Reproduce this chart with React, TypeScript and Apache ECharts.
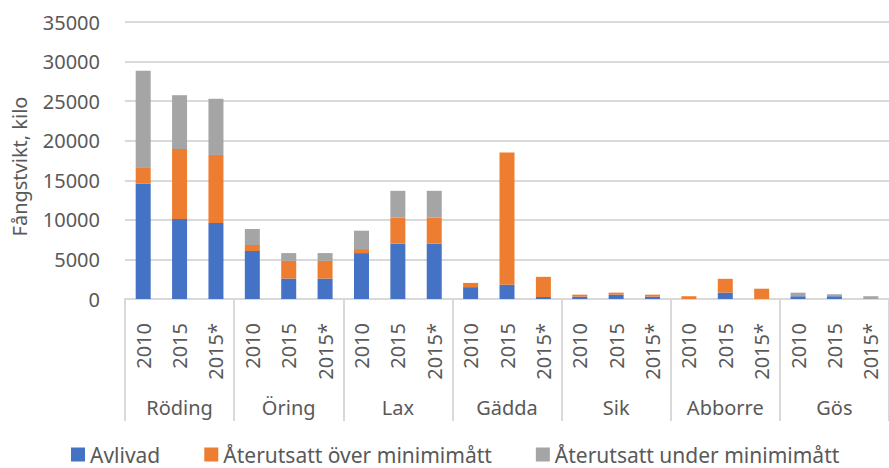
import React, { useEffect, useRef } from "react";
import * as echarts from "echarts";

const groups = ["Röding", "Öring", "Lax", "Gädda", "Sik", "Abborre", "Gös"];
const years = ["2010", "2015", "2015*"];
const categories: string[] = groups.flatMap(() => years);

const avlivad = [14600, 10100, 9600, 6050, 2580, 2580, 5800, 7000, 7000, 1500, 1800, 250, 300, 550, 300, 0, 800, 0, 350, 350, 0];
const overMin = [2050, 8850, 8600, 760, 2240, 2240, 510, 3280, 3280, 530, 16700, 2550, 250, 250, 250, 350, 1750, 1300, 0, 0, 0];
const underMin = [12200, 6800, 7100, 2030, 980, 980, 2320, 3390, 3390, 0, 0, 0, 0, 0, 0, 0, 0, 0, 450, 250, 350];

const seriesNames = ["Avlivad", "Återutsatt över minimimått", "Återutsatt under minimimått"];
const colors = ["#4472C4", "#ED7D31", "#A5A5A5"];

const FONT = "Noto Sans";
const TEXT = "#595959";
const GRID = "#D9D9D9";

export default function App() {
  const ref = useRef<HTMLDivElement>(null);
  useEffect(() => {
    if (!ref.current) return;
    const chart = echarts.init(ref.current, null, { renderer: "svg" });
    const values = [avlivad, overMin, underMin];
    chart.setOption({
      animation: false,
      textStyle: { fontFamily: FONT },
      color: colors,
      grid: { left: 125, right: -9, top: 22, bottom: 169, containLabel: false },
      legend: {
        data: seriesNames,
        left: 66,
        top: 439,
        itemWidth: 14,
        itemHeight: 14,
        itemGap: 44,
        icon: "rect",
        textStyle: { fontFamily: FONT, fontSize: 21, color: TEXT, lineHeight: 21 },
      },
      xAxis: [
        {
          type: "category",
          data: categories,
          position: "bottom",
          axisLine: { show: true, lineStyle: { color: GRID, width: 2 } },
          axisTick: { show: false },
          axisLabel: {
            interval: 0,
            rotate: 90,
            margin: 24,
            fontFamily: FONT,
            fontSize: 20,
            color: TEXT,
          },
        },
        {
          type: "category",
          data: groups,
          position: "bottom",
          axisLine: { show: false },
          axisTick: {
            show: true,
            interval: 0,
            length: 122,
            lineStyle: { color: GRID, width: 2 },
          },
          axisLabel: {
            interval: 0,
            margin: 98,
            fontFamily: FONT,
            fontSize: 20,
            color: TEXT,
          },
        },
      ],
      yAxis: {
        type: "value",
        min: 0,
        max: 35000,
        interval: 5000,
        name: "Fångstvikt, kilo",
        nameLocation: "middle",
        nameGap: 96,
        nameTextStyle: { fontFamily: FONT, fontSize: 20, color: TEXT, padding: [0, 12, 0, 0] },
        axisLine: { show: false },
        axisTick: { show: false },
        splitLine: { lineStyle: { color: GRID, width: 2 } },
        axisLabel: {
          margin: 25,
          fontFamily: FONT,
          fontSize: 20,
          color: TEXT,
          formatter: (v: number) => String(v),
        },
      },
      series: seriesNames.map((name, i) => ({
        name,
        type: "bar",
        stack: "total",
        xAxisIndex: 0,
        barWidth: 15,
        data: values[i],
        itemStyle: { color: colors[i] },
      })),
    });
    return () => chart.dispose();
  }, []);
  return (
    <div
      ref={ref}
      style={{ position: "absolute", left: 0, top: 0, width: 889, height: 468, background: "#fff" }}
    />
  );
}
